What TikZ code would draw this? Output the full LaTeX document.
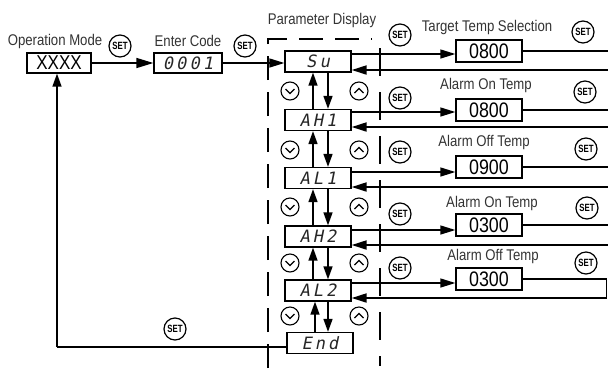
\documentclass[tikz,border=0pt]{standalone}
\usepackage{fontspec}
\setmainfont{Liberation Sans}[FakeStretch=0.85]
\newfontfamily\lcdfont{DejaVu Sans Mono}[FakeSlant=0.2,LetterSpace=18]
\newfontfamily\setfont{Liberation Sans}[FakeStretch=0.75]
\usetikzlibrary{arrows.meta,calc}
\begin{document}
\begin{tikzpicture}[x=1pt,y=-1pt,line width=1.4pt,
  lbl/.style={font=\fontsize{15.5}{15.5}\selectfont,text=black!80,inner sep=0},
  pbox/.style={draw,minimum width=66pt,minimum height=21pt,inner sep=0,line width=1.3pt,
    font=\lcdfont\fontsize{17}{17}\selectfont,text=black!85},
  vbox/.style={draw,minimum width=66pt,minimum height=22pt,inner sep=0,line width=1.3pt,
    font=\fontsize{21}{21}\selectfont},
  setc/.style={draw,circle,minimum size=22pt,inner sep=0,line width=1.2pt,
    font=\setfont\bfseries\fontsize{10.5}{10.5}\selectfont},
  dnc/.style={draw,circle,minimum size=18pt,inner sep=0,line width=1.1pt,
    path picture={\draw[line width=1.1pt]
      ([shift={(-4.5,-2)}]path picture bounding box.center) --
      ([shift={(0,2.5)}]path picture bounding box.center) --
      ([shift={(4.5,-2)}]path picture bounding box.center);}},
  upc/.style={draw,circle,minimum size=18pt,inner sep=0,line width=1.1pt,
    path picture={\draw[line width=1.1pt]
      ([shift={(-4.5,2)}]path picture bounding box.center) --
      ([shift={(0,-2.5)}]path picture bounding box.center) --
      ([shift={(4.5,2)}]path picture bounding box.center);}},
  arr/.style={-{Triangle[length=15pt,width=9pt]}},
  varr/.style={-{Triangle[length=13pt,width=9pt]},line width=1.5pt},
  thin/.style={line width=1.3pt},
  thick/.style={line width=1.9pt},
  dashline/.style={line width=1.4pt,dash pattern=on 24pt off 12pt}
]
\useasboundingbox (0,0) rectangle (608,368);

% left part
\node[lbl] (opl) at (55,41) {Operation Mode};
\node[draw,minimum width=64pt,minimum height=20pt,inner sep=0,line width=1.3pt,
  font=\fontsize{20}{20}\selectfont] (op) at (59,63) {XXXX};
\node[setc] (s0) at (120,46) {SET};
\node[lbl] (ecl) at (188,41) {Enter Code};
\node[pbox,minimum width=68pt,minimum height=20pt] (ec) at (188,63) {0001};
\node[setc] (s1) at (245,46) {SET};

% parameter column
\node[lbl] (pdl) at (322,20) {Parameter Display};
\node[pbox] (Su)  at (318,61.5)  {Su};
\node[pbox] (AH1) at (318,120)   {AH1};
\node[pbox] (AL1) at (318,178)   {AL1};
\node[pbox] (AH2) at (318,236.5) {AH2};
\node[pbox] (AL2) at (318,290.5) {AL2};
\node[pbox] (End) at (320,343)   {End};

% dashed frame
\coordinate (dbl) at (268,368);
\coordinate (dtl) at (268,39);
\coordinate (dtr) at (372,39);
\coordinate (drt) at (380,48);
\coordinate (drb) at (380,366);
\draw[dashline] (dbl) -- (dtl) -- (dtr);
\draw[dashline,dash pattern=on 28pt off 16pt] (drt) -- (drb);

% up/down circles and left SETs
\foreach \y [count=\i] in {91,150,207,263,316} {
  \node[dnc] (dn\i) at (290,\y) {};
  \node[upc] (up\i) at (359,\y) {};
}
\foreach \y [count=\i] in {35,98,152,214,268} {
  \node[setc] (ls\i) at (400,\y) {SET};
}

% value column
\node[lbl] (t1) at (487,27)  {Target Temp Selection};
\node[lbl] (t2) at (486,85)  {Alarm On Temp};
\node[lbl] (t3) at (484,142) {Alarm Off Temp};
\node[lbl] (t4) at (492,203) {Alarm On Temp};
\node[lbl] (t5) at (493,256) {Alarm Off Temp};
\node[vbox] (v1) at (489,51)  {0800};
\node[vbox] (v2) at (489,110) {0800};
\node[vbox] (v3) at (489,167) {0900};
\node[vbox] (v4) at (489,225) {0300};
\node[vbox] (v5) at (489,279) {0300};
\node[setc] (rs1) at (583,32)  {SET};
\node[setc] (rs2) at (585,92)  {SET};
\node[setc] (rs3) at (586,149) {SET};
\node[setc] (rs4) at (587,208) {SET};
\node[setc] (rs5) at (586,263) {SET};
\node[setc] (bs)  at (175,329) {SET};

\coordinate (edge) at (612,0);
\coordinate (edge5) at (606.5,0);

% main flow
\draw[arr,line width=1.6pt,-{Triangle[length=17pt,width=10pt]}] (op.east) -- (ec.west);
\draw[arr,thin] (ec.east) -- (ec.east -| Su.west);

% rows
\foreach \p/\v/\os/\rs [count=\i] in {Su/v1/7.5/8.5,AH1/v2/8/7,AL1/v3/6/9,AH2/v4/6.5/8.5,AL2/v5/7.5/7.5} {
  \path ([yshift=\os pt]\p.east) coordinate (o\i)
        ([yshift=-\rs pt]\p.east) coordinate (r\i);
  \draw[arr,thin] (o\i) -- (o\i -| \v.west);
}
\foreach \i in {1,2,3,4} {
  \draw[thin] (v\i.east) -- (v\i.east -| edge);
  \draw[arr,thick] (r\i -| edge) -- (r\i);
}
\draw[thin] (v5.east) -- (v5.east -| edge5) -- (r5 -| edge5);
\draw[arr,thick] (r5 -| edge5) -- (r5);

% vertical arrows
\foreach \a/\b [count=\i] in {Su/AH1,AH1/AL1,AL1/AH2,AH2/AL2,AL2/End} {
  \path ([xshift=-5pt]\b.north) coordinate (ua\i)
        ([xshift=10pt]\a.south) coordinate (da\i);
  \draw[varr] (ua\i) -- (ua\i |- \a.south);
  \draw[varr] (da\i) -- (da\i |- \b.north);
}

% return to operation mode
\coordinate (bl) at (57,347);
\draw[thin] ([yshift=-4pt]End.west) -- ([yshift=-4pt]End.west -| bl) coordinate (blc);
\draw[varr] (blc) -- (blc |- op.south);
\end{tikzpicture}
\end{document}
